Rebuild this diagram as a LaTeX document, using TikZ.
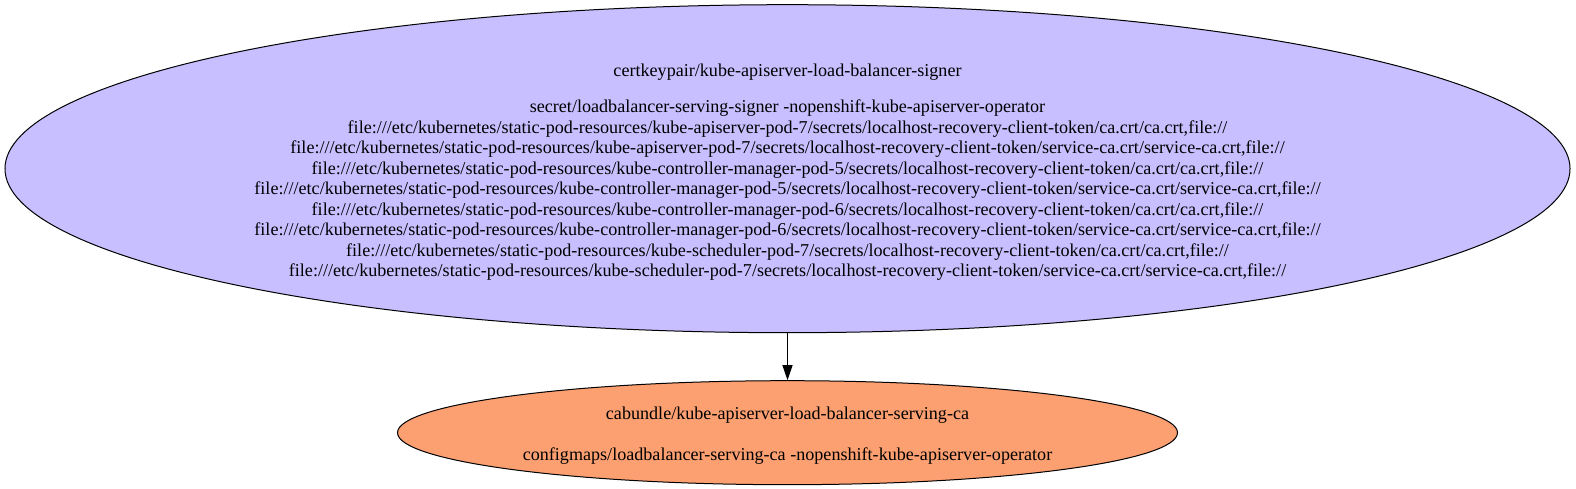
\documentclass[tikz,border=0pt]{standalone}
\usepackage{fontspec}
\setmainfont{Liberation Serif}
\usepackage{xcolor}
\usetikzlibrary{shapes.geometric, arrows.meta}

\definecolor{signerfill}{HTML}{C7BFFF}
\definecolor{bundlefill}{HTML}{FCA072}

\begin{document}
\begin{tikzpicture}[x=1bp, y=1bp,
                    every node/.style={font=\fontsize{18.1bp}{20.5bp}\selectfont},
                    oval/.style={ellipse, draw=black, line width=1bp, inner sep=0pt},
                    signer/.style={oval, fill=signerfill, minimum width=1565bp, minimum height=328bp},
                    bundle/.style={oval, fill=bundlefill, minimum width=780bp, minimum height=104bp},
                    caption/.style={align=center, inner sep=0pt},
                    link/.style={-{Triangle[length=15bp, width=10bp]}, line width=1bp}
                   ]
        \useasboundingbox (0,0) rectangle (1576,-489);

        % top: the signing key pair
        \node[signer] (lbsigner) at (787.5,-168.7) {};
        \node[caption] (lbsignertext) at (787.5,-172.5) {certkeypair/kube-apiserver-load-balancer-signer\\[15.2bp]
            secret/loadbalancer-serving-signer -nopenshift-kube-apiserver-operator\\
            file:///etc/kubernetes/static-pod-resources/kube-apiserver-pod-7/secrets/localhost-recovery-client-token/ca.crt/ca.crt,file://\\
            file:///etc/kubernetes/static-pod-resources/kube-apiserver-pod-7/secrets/localhost-recovery-client-token/service-ca.crt/service-ca.crt,file://\\
            file:///etc/kubernetes/static-pod-resources/kube-controller-manager-pod-5/secrets/localhost-recovery-client-token/ca.crt/ca.crt,file://\\
            file:///etc/kubernetes/static-pod-resources/kube-controller-manager-pod-5/secrets/localhost-recovery-client-token/service-ca.crt/service-ca.crt,file://\\
            file:///etc/kubernetes/static-pod-resources/kube-controller-manager-pod-6/secrets/localhost-recovery-client-token/ca.crt/ca.crt,file://\\
            file:///etc/kubernetes/static-pod-resources/kube-controller-manager-pod-6/secrets/localhost-recovery-client-token/service-ca.crt/service-ca.crt,file://\\
            file:///etc/kubernetes/static-pod-resources/kube-scheduler-pod-7/secrets/localhost-recovery-client-token/ca.crt/ca.crt,file://\\
            file:///etc/kubernetes/static-pod-resources/kube-scheduler-pod-7/secrets/localhost-recovery-client-token/service-ca.crt/service-ca.crt,file://};

        % bottom: the ca bundle
        \node[bundle] (lbbundle) at (787.5,-432.7) {};
        \node[caption] (lbbundletext) at (787.5,-436) {cabundle/kube-apiserver-load-balancer-serving-ca\\[20.2bp]
            configmaps/loadbalancer-serving-ca -nopenshift-kube-apiserver-operator};

        \draw[link] (lbsigner) -- (lbbundle);
\end{tikzpicture}
\end{document}
